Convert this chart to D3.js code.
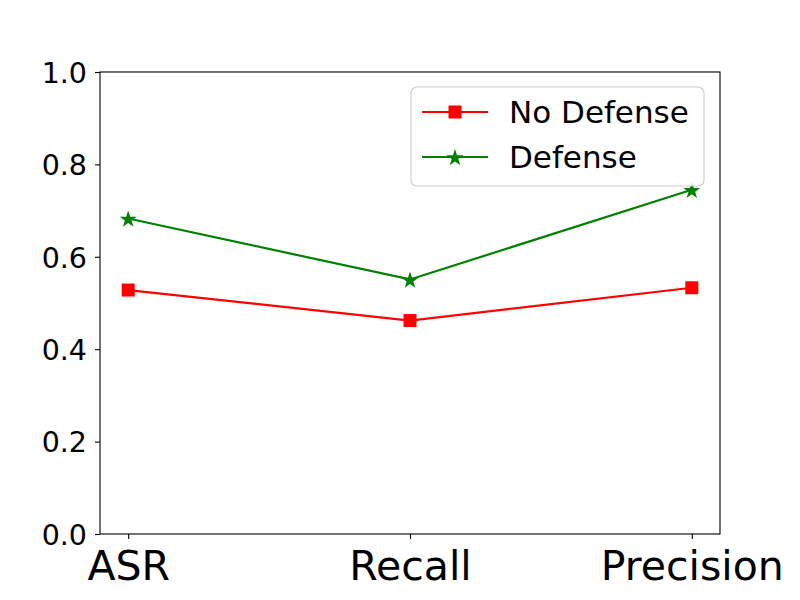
<!DOCTYPE html>
<html>
<head>
<meta charset="utf-8">
<script src="https://cdn.jsdelivr.net/npm/d3@7"></script>
<style>
  body { margin: 0; background: #fff; }
  svg text { font-family: "DejaVu Sans", sans-serif; }
</style>
</head>
<body>
<div class="displayArea"></div>
<script>
const width = 800;
const height = 600;

// frame of the axes (matplotlib default subplot params)
const plotLeft = 100, plotRight = 720, plotTop = 72, plotBottom = 534;
const font = "DejaVu Sans";

var metrics = ["ASR", "Recall", "Precision"];
var noDefense = [0.528, 0.462, 0.533];
var defense = [0.683, 0.551, 0.745];
var yTicks = [0.0, 0.2, 0.4, 0.6, 0.8, 1.0];

var series = [
    { name: "No Defense", values: noDefense, color: "red", marker: "square" },
    { name: "Defense", values: defense, color: "green", marker: "star" }
];

var xScale = d3.scaleLinear() // categories on 0..n-1 with 5% margins
    .domain([-0.1, metrics.length - 1 + 0.1])
    .range([plotLeft, plotRight]);

var yScale = d3.scaleLinear()
    .domain([0, 1])
    .range([plotBottom, plotTop]);

var svg = d3.select(".displayArea")
    .append("svg")
    .attr("width", width)
    .attr("height", height);

var xAxis = d3.axisBottom(xScale)
    .tickValues(d3.range(metrics.length))
    .tickFormat(function (d) { return metrics[d]; })
    .tickSize(5)
    .tickPadding(5)
    .tickSizeOuter(0);

var yAxis = d3.axisLeft(yScale)
    .tickValues(yTicks)
    .tickFormat(d3.format(".1f"))
    .tickSize(5)
    .tickPadding(8)
    .tickSizeOuter(0);

var gx = svg.append("g")
    .attr("transform", `translate(0,${plotBottom})`)
    .call(xAxis)
    .attr("font-family", font);
gx.select(".domain").remove();
gx.selectAll("line").attr("stroke", "#000").attr("stroke-width", 1.1);
gx.selectAll("text")
    .attr("fill", "#000")
    .attr("font-size", 41)
    .attr("y", 9.7)
    .attr("dy", "0.88em");

var gy = svg.append("g")
    .attr("transform", `translate(${plotLeft},0)`)
    .call(yAxis)
    .attr("font-family", font);
gy.select(".domain").remove();
gy.selectAll("line").attr("stroke", "#000").attr("stroke-width", 1.1);
gy.selectAll("text")
    .attr("fill", "#000")
    .attr("font-size", 28.5)
    .attr("dy", "0.36em");

// star shape like matplotlib '*'
function starPath(r) {
    var pts = [];
    for (var i = 0; i < 10; i++) {
        var rad = i % 2 === 0 ? r : r * 0.381966;
        var a = -Math.PI / 2 + i * Math.PI / 5;
        pts.push([rad * Math.cos(a), rad * Math.sin(a)]);
    }
    return "M" + pts.map(function (p) { return p.join(","); }).join("L") + "Z";
}

function drawMarker(g, type, color) {
    if (type === "square") {
        g.append("rect")
            .attr("x", -6.5).attr("y", -6.5)
            .attr("width", 13).attr("height", 13)
            .attr("fill", color);
    } else {
        g.append("path")
            .attr("d", starPath(9))
            .attr("transform", "translate(0,1)")
            .attr("fill", color);
    }
}

var line = d3.line()
    .x(function (d, i) { return xScale(i); })
    .y(function (d) { return yScale(d); });

series.forEach(function (s) {
    svg.append("path")
        .datum(s.values)
        .attr("d", line)
        .attr("fill", "none")
        .attr("stroke", s.color)
        .attr("stroke-width", 2.2);

    s.values.forEach(function (v, i) {
        var m = svg.append("g")
            .attr("transform", `translate(${xScale(i)},${yScale(v)})`);
        drawMarker(m, s.marker, s.color);
    });
});

// frame
svg.append("rect")
    .attr("x", plotLeft).attr("y", plotTop)
    .attr("width", plotRight - plotLeft).attr("height", plotBottom - plotTop)
    .attr("fill", "none")
    .attr("stroke", "#000")
    .attr("stroke-width", 1.1);

// legend
var legend = svg.append("g").attr("font-family", font);
legend.append("rect")
    .attr("x", 411).attr("y", 87)
    .attr("width", 293).attr("height", 99)
    .attr("rx", 6).attr("ry", 6)
    .attr("fill", "#fff")
    .attr("fill-opacity", 0.8)
    .attr("stroke", "#cccccc")
    .attr("stroke-width", 1.1);

series.forEach(function (s, i) {
    var y = 112 + i * 45;
    legend.append("line")
        .attr("x1", 422).attr("x2", 488)
        .attr("y1", y).attr("y2", y)
        .attr("stroke", s.color)
        .attr("stroke-width", 2.2);
    var m = legend.append("g").attr("transform", `translate(455,${y})`);
    drawMarker(m, s.marker, s.color);
    legend.append("text")
        .attr("x", 509)
        .attr("y", y)
        .attr("dy", "0.36em")
        .attr("font-size", 31)
        .attr("fill", "#000")
        .text(s.name);
});
</script>
</body>
</html>
